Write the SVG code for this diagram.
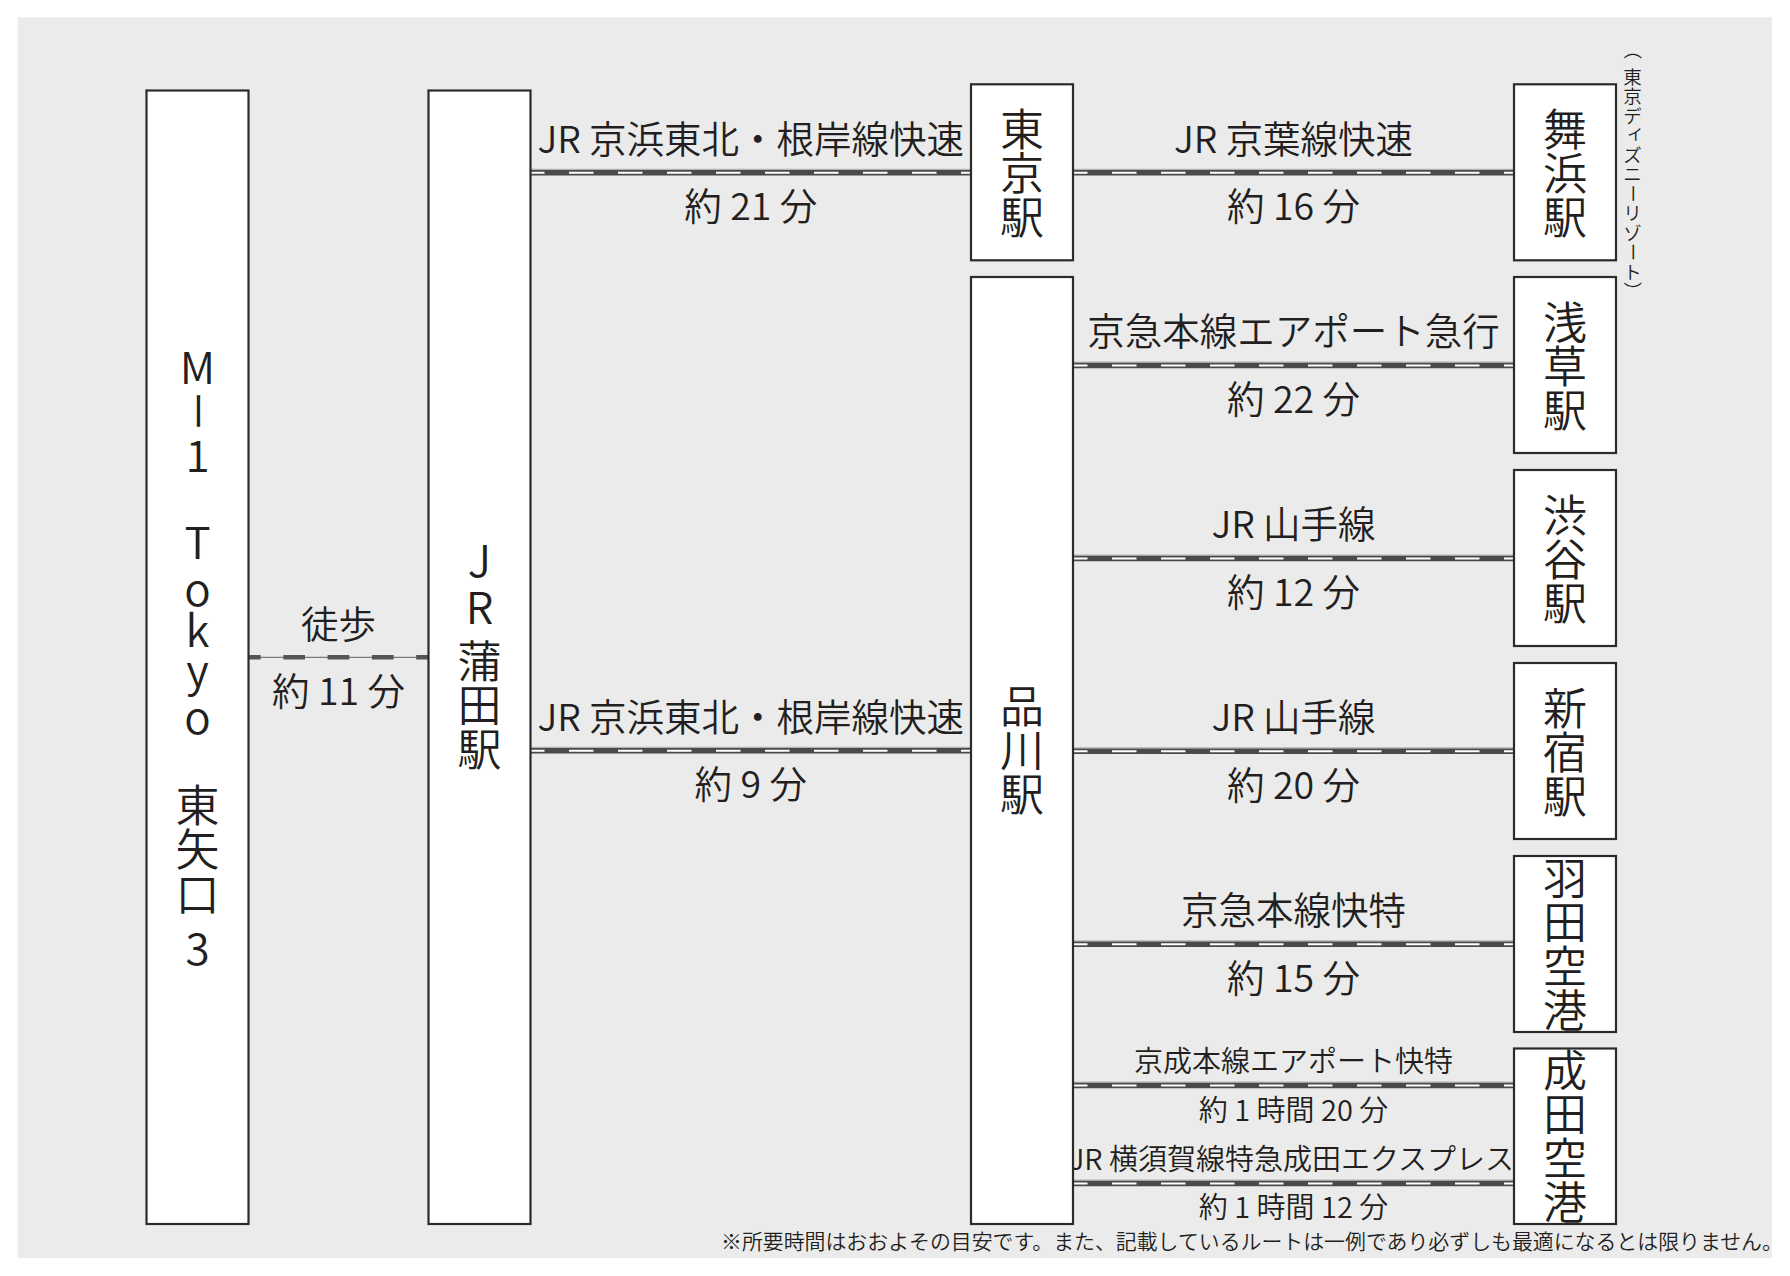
<svg xmlns="http://www.w3.org/2000/svg" width="1790" height="1276" viewBox="0 0 1790 1276">
<style>
.bg{fill:#ebebeb}
.box{fill:#fff;stroke:#2b2b2b;stroke-width:2.2}
.t{font-family:"Noto Sans CJK JP","Noto Sans",sans-serif;fill:#231f20;font-weight:350}
.lbl{font-size:37.5px;text-anchor:middle}
.sm{font-size:29px;text-anchor:middle}
.v{font-size:44px;text-anchor:middle}
.vs{font-size:18.5px;text-anchor:middle}
.note{font-size:20.9px}
.rd{stroke:#4a4a4a;stroke-width:5.5}
.rl{stroke:#a5a5a5;stroke-width:1}
.rw{stroke:#fff;stroke-width:2;stroke-dasharray:24.5 24.5}
.wb{stroke:#7a7a7a;stroke-width:1.3}
.wd{stroke:#555;stroke-width:4.5;stroke-dasharray:21.7 22.6;stroke-dashoffset:9.5}
</style>
<defs>
<g id="railL">
<line class="rl" x1="0" y1="-3.4" x2="440.5" y2="-3.4"/>
<line class="rd" x1="0" y1="0" x2="440.5" y2="0"/>
<line class="rw" x1="0" y1="0" x2="440.5" y2="0" style="stroke-dashoffset:10.5"/>
</g>
<g id="railR">
<line class="rl" x1="0" y1="-3.4" x2="441" y2="-3.4"/>
<line class="rd" x1="0" y1="0" x2="441" y2="0"/>
<line class="rw" x1="0" y1="0" x2="441" y2="0" style="stroke-dashoffset:10"/>
</g>
</defs>
<rect class="bg" x="17.5" y="17.3" width="1754.5" height="1240.7"/>

<g id="connectors">
<g id="walk">
<line class="wb" x1="248.5" y1="657.3" x2="428.5" y2="657.3"/>
<line class="wd" x1="248.5" y1="657.3" x2="428.5" y2="657.3"/>
<text class="t lbl" x="338.5" y="638">徒歩</text>
<text class="t lbl" x="338.5" y="705">約 11 分</text>
</g>
<g id="kamata-tokyo">
<use href="#railL" x="530.5" y="172.7"/>
<text class="t lbl" x="750.75" y="152.5">JR 京浜東北・根岸線快速</text>
<text class="t lbl" x="750.75" y="220">約 21 分</text>
</g>
<g id="kamata-shinagawa">
<use href="#railL" x="530.5" y="750.7"/>
<text class="t lbl" x="750.75" y="730.5">JR 京浜東北・根岸線快速</text>
<text class="t lbl" x="750.75" y="798">約 9 分</text>
</g>
<g id="tokyo-maihama">
<use href="#railR" x="1073" y="172.7"/>
<text class="t lbl" x="1293.5" y="152.5">JR 京葉線快速</text>
<text class="t lbl" x="1293.5" y="220">約 16 分</text>
</g>
<g id="shinagawa-asakusa">
<use href="#railR" x="1073" y="365.5"/>
<text class="t lbl" x="1293.5" y="345">京急本線エアポート急行</text>
<text class="t lbl" x="1293.5" y="413">約 22 分</text>
</g>
<g id="shinagawa-shibuya">
<use href="#railR" x="1073" y="558.5"/>
<text class="t lbl" x="1293.5" y="538">JR 山手線</text>
<text class="t lbl" x="1293.5" y="606">約 12 分</text>
</g>
<g id="shinagawa-shinjuku">
<use href="#railR" x="1073" y="751.3"/>
<text class="t lbl" x="1293.5" y="731">JR 山手線</text>
<text class="t lbl" x="1293.5" y="799">約 20 分</text>
</g>
<g id="shinagawa-haneda">
<use href="#railR" x="1073" y="944.3"/>
<text class="t lbl" x="1293.5" y="924">京急本線快特</text>
<text class="t lbl" x="1293.5" y="992">約 15 分</text>
</g>
<g id="shinagawa-narita-1">
<use href="#railR" x="1073" y="1085.5"/>
<text class="t sm" x="1293.5" y="1071.5">京成本線エアポート快特</text>
<text class="t sm" x="1293.5" y="1120.5">約 1 時間 20 分</text>
</g>
<g id="shinagawa-narita-2">
<use href="#railR" x="1073" y="1183.5"/>
<text class="t sm" x="1291.5" y="1169.5">JR 横須賀線特急成田エクスプレス</text>
<text class="t sm" x="1293.5" y="1218">約 1 時間 12 分</text>
</g>
</g>

<g id="node-m1tokyo">
<rect class="box" x="146.5" y="90.5" width="102" height="1133.5"/>
<text class="t v" x="197.5" y="383.5">M</text>
<text class="t" x="197.5" y="426" style="font-size:40px;text-anchor:middle" transform="rotate(90 197.5 411)">ー</text>
<text class="t v" x="197.5" y="471.5">1</text>
<text class="t v" x="197.5" y="559">T</text>
<text class="t v" x="197.5" y="606">o</text>
<text class="t v" x="197.5" y="647">k</text>
<text class="t v" x="197.5" y="687">y</text>
<text class="t v" x="197.5" y="733.5">o</text>
<text class="t v" x="197.5" y="821.7">東</text>
<text class="t v" x="197.5" y="865.7">矢</text>
<text class="t v" x="197.5" y="911">口</text>
<text class="t v" x="197.5" y="965">3</text>
</g>

<g id="node-kamata">
<rect class="box" x="428.5" y="90.5" width="102" height="1133.5"/>
<text class="t v" x="479.5" y="577">J</text>
<text class="t v" x="479.5" y="623.5">R</text>
<text class="t v" x="479.5" y="678.4">蒲</text>
<text class="t v" x="479.5" y="722.3">田</text>
<text class="t v" x="479.5" y="765.7">駅</text>
</g>

<g id="node-tokyo">
<rect class="box" x="971" y="84.3" width="102" height="176"/>
<text class="t v" x="1022" y="146">東</text>
<text class="t v" x="1022" y="190">京</text>
<text class="t v" x="1022" y="234">駅</text>
</g>

<g id="node-shinagawa">
<rect class="box" x="971" y="277" width="102" height="947"/>
<text class="t v" x="1022" y="722.7">品</text>
<text class="t v" x="1022" y="766.7">川</text>
<text class="t v" x="1022" y="810.7">駅</text>
</g>

<g id="node-maihama">
<rect class="box" x="1514" y="84.3" width="102" height="176"/>
<text class="t v" x="1565" y="146">舞</text>
<text class="t v" x="1565" y="190">浜</text>
<text class="t v" x="1565" y="234">駅</text>
<g id="maihama-note">
<text class="t vs" x="1632.5" y="57" transform="rotate(90 1632.5 50)">（</text>
<text class="t vs" x="1632.5" y="83.5">東</text>
<text class="t vs" x="1632.5" y="103">京</text>
<text class="t vs" x="1632.5" y="122.5">デ</text>
<text class="t vs" x="1635.5" y="139">ィ</text>
<text class="t vs" x="1632.5" y="161.5">ズ</text>
<text class="t vs" x="1632.5" y="181">ニ</text>
<text class="t vs" x="1632.5" y="200.5" transform="rotate(90 1632.5 193.5)">ー</text>
<text class="t vs" x="1632.5" y="220">リ</text>
<text class="t vs" x="1632.5" y="239.5">ゾ</text>
<text class="t vs" x="1632.5" y="259" transform="rotate(90 1632.5 252)">ー</text>
<text class="t vs" x="1632.5" y="278.5">ト</text>
<text class="t vs" x="1632.5" y="298" transform="rotate(90 1632.5 291)">）</text>
</g>
</g>

<g id="node-asakusa">
<rect class="box" x="1514" y="277" width="102" height="176"/>
<text class="t v" x="1565" y="338.7">浅</text>
<text class="t v" x="1565" y="382.7">草</text>
<text class="t v" x="1565" y="426.7">駅</text>
</g>

<g id="node-shibuya">
<rect class="box" x="1514" y="470" width="102" height="176"/>
<text class="t v" x="1565" y="531.7">渋</text>
<text class="t v" x="1565" y="575.7">谷</text>
<text class="t v" x="1565" y="619.7">駅</text>
</g>

<g id="node-shinjuku">
<rect class="box" x="1514" y="663" width="102" height="176"/>
<text class="t v" x="1565" y="724.7">新</text>
<text class="t v" x="1565" y="768.7">宿</text>
<text class="t v" x="1565" y="812.7">駅</text>
</g>

<g id="node-haneda">
<rect class="box" x="1514" y="856" width="102" height="176"/>
<text class="t v" x="1565" y="894.7">羽</text>
<text class="t v" x="1565" y="938.7">田</text>
<text class="t v" x="1565" y="982.7">空</text>
<text class="t v" x="1565" y="1026.7">港</text>
</g>

<g id="node-narita">
<rect class="box" x="1514" y="1048.5" width="102" height="175.5"/>
<text class="t v" x="1565" y="1087.2">成</text>
<text class="t v" x="1565" y="1131.2">田</text>
<text class="t v" x="1565" y="1175.2">空</text>
<text class="t v" x="1565" y="1219.2">港</text>
</g>

<text class="t note" x="721" y="1249">※所要時間はおおよその目安です。また、記載しているルートは一例であり必ずしも最適になるとは限りません。</text>
</svg>
